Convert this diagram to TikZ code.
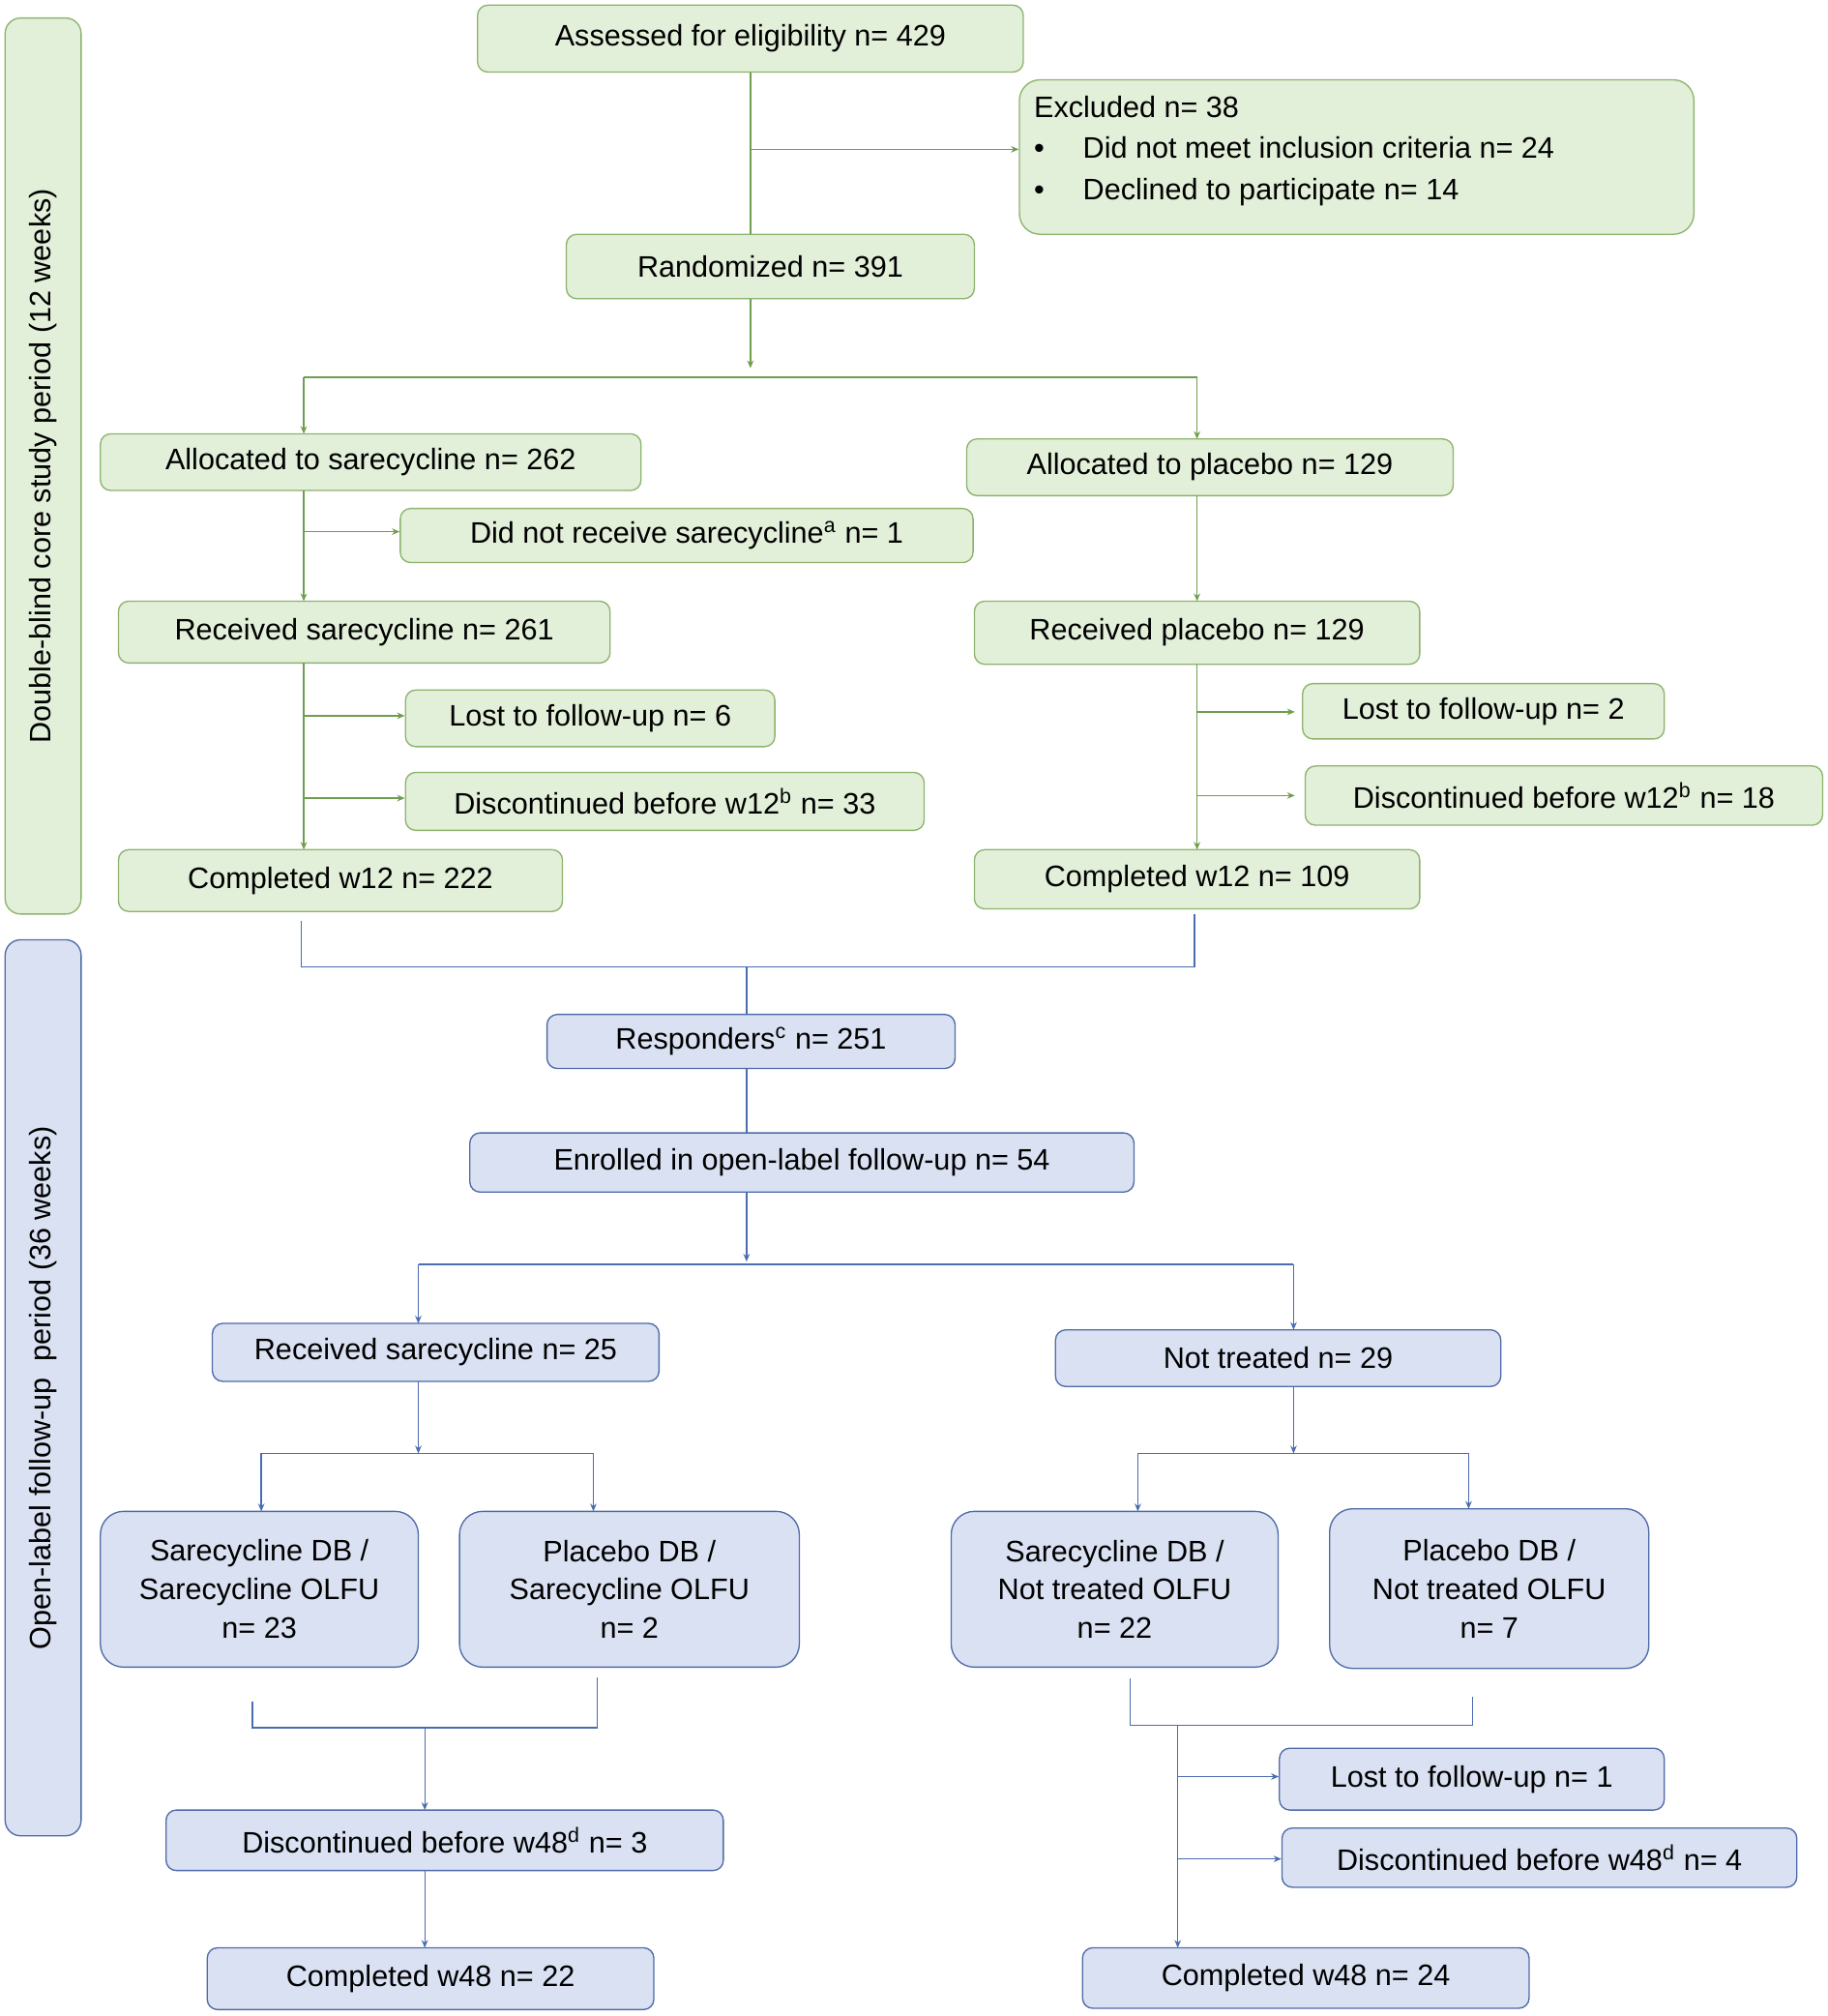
\documentclass[tikz,border=0pt]{standalone}
\usepackage{fontspec}
\setmainfont{Liberation Sans}
\usetikzlibrary{arrows.meta}
\definecolor{gf}{HTML}{E2EFD9}\definecolor{gb}{HTML}{8DB36C}\definecolor{gl}{HTML}{6E9E4E}
\definecolor{bf}{HTML}{D9E1F2}\definecolor{bb}{HTML}{4F6BA8}\definecolor{bl}{HTML}{4A6CB0}
\tikzset{
 g/.style={draw=gb,fill=gf,line width=0.5pt,rounded corners=4pt},
 b/.style={draw=bb,fill=bf,line width=0.5pt,rounded corners=4pt},
 gc/.style={draw=gl,line width=0.5pt},
 bc/.style={draw=bl,line width=0.5pt},
 ar/.style={-{Stealth[length=3pt,width=2.5pt]}},
 txt/.style={font=\fontsize{11.5}{15}\selectfont,inner sep=0pt,align=center}
}
\newcommand\bx[7]{\node[#7,txt,minimum width={(#4-#2)*0.5pt},minimum height={(#5-#3)*0.5pt}] (#1) at ({(#2+#4)/2},{(#3+#5)/2}) {#6};}
\begin{document}
\begin{tikzpicture}[x=0.5pt,y=-0.5pt]
\useasboundingbox (0,0) rectangle (1420,1566);
\fill[white] (0,0) rectangle (1420,1566);
% side labels
\bx{sg}{4}{14}{63}{710}{}{g,rounded corners=6pt}
\node[txt,rotate=90] (sgt) at (sg) {Double-blind core study period (12 weeks)};
\bx{sb}{4}{730}{63}{1426}{}{b,rounded corners=6pt}
\node[txt,rotate=90] (sbt) at (sb) {Open-label follow-up\ \ period (36 weeks)};
% green boxes
\bx{A}{371}{4}{795}{56}{Assessed for eligibility n= 429}{g}
\bx{E}{792}{62}{1316}{182}{}{g,rounded corners=8pt}
\node[txt,align=left,anchor=north west] (Et) at (803,74) {Excluded n= 38\\[1pt]
\textbullet\hspace{1.3em}Did not meet inclusion criteria n= 24\\[1pt]
\textbullet\hspace{1.3em}Declined to participate n= 14};
\bx{R}{440}{182}{757}{232}{Randomized n= 391}{g}
\bx{AS}{78}{337}{498}{381}{Allocated to sarecycline n= 262}{g}
\bx{AP}{751}{341}{1129}{385}{Allocated to placebo n= 129}{g}
\bx{DN}{311}{395}{756}{437}{Did not receive sarecycline\textsuperscript{a} n= 1}{g}
\bx{RS}{92}{467}{474}{515}{Received sarecycline n= 261}{g}
\bx{RP}{757}{467}{1103}{516}{Received placebo n= 129}{g}
\bx{L6}{315}{536}{602}{580}{Lost to follow-up n= 6}{g}
\bx{D33}{315}{600}{718}{645}{Discontinued before w12\textsuperscript{b} n= 33}{g}
\bx{L2}{1012}{531}{1293}{574}{Lost to follow-up n= 2}{g}
\bx{D18}{1014}{595}{1416}{641}{Discontinued before w12\textsuperscript{b} n= 18}{g}
\bx{C222}{92}{660}{437}{708}{Completed w12 n= 222}{g}
\bx{C109}{757}{660}{1103}{706}{Completed w12 n= 109}{g}
% blue boxes
\bx{RE}{425}{788}{742}{830}{Responders\textsuperscript{c} n= 251}{b}
\bx{EN}{365}{880}{881}{926}{Enrolled in open-label follow-up n= 54}{b}
\bx{R25}{165}{1028}{512}{1073}{Received sarecycline n= 25}{b}
\bx{NT}{820}{1033}{1166}{1077}{Not treated n= 29}{b}
\bx{SS}{78}{1174}{325}{1295}{Sarecycline DB /\\Sarecycline OLFU\\n= 23}{b,rounded corners=9pt}
\bx{PS}{357}{1174}{621}{1295}{Placebo DB /\\Sarecycline OLFU\\n= 2}{b,rounded corners=9pt}
\bx{SN}{739}{1174}{993}{1295}{Sarecycline DB /\\Not treated OLFU\\n= 22}{b,rounded corners=9pt}
\bx{PN}{1033}{1172}{1281}{1296}{Placebo DB /\\Not treated OLFU\\n= 7}{b,rounded corners=9pt}
\bx{D3}{129}{1406}{562}{1453}{Discontinued before w48\textsuperscript{d} n= 3}{b}
\bx{L1}{994}{1358}{1293}{1406}{Lost to follow-up n= 1}{b}
\bx{D4}{996}{1420}{1396}{1466}{Discontinued before w48\textsuperscript{d} n= 4}{b}
\bx{C22}{161}{1513}{508}{1561}{Completed w48 n= 22}{b}
\bx{C24}{841}{1513}{1188}{1560}{Completed w48 n= 24}{b}
% green connectors
\coordinate (a1) at (583,116);
\draw[gc] (583,56) -- (583,182);
\draw[gc,ar] (a1) -- (E.west|-a1);
\draw[gc,ar] (583,232) -- (583,286);
\draw[gc] (236,293) -- (930,293);
\draw[gc,ar] (236,293) -- (236,337);
\draw[gc,ar] (930,293) -- (930,341);
\draw[gc,ar] (236,381) -- (236,467);
\draw[gc,ar] (236,413) -- (DN.west|-236,413);
\draw[gc,ar] (930,385) -- (930,467);
\draw[gc,ar] (236,515) -- (236,660);
\draw[gc,ar] (236,556) -- (L6.west|-236,556);
\draw[gc,ar] (236,620) -- (D33.west|-236,620);
\draw[gc,ar] (930,516) -- (930,660);
\draw[gc,ar] (930,553) -- (1006,553);
\draw[gc,ar] (930,618) -- (1006,618);
% blue connectors
\draw[bc] (234,715) -- (234,751) -- (928,751) -- (928,710);
\draw[bc] (580,751) -- (580,788);
\draw[bc] (580,830) -- (580,880);
\draw[bc,ar] (580,926) -- (580,980);
\draw[bc] (325,982) -- (1005,982);
\draw[bc,ar] (325,982) -- (325,1028);
\draw[bc,ar] (1005,982) -- (1005,1033);
\draw[bc,ar] (325,1073) -- (325,1129);
\draw[bc] (203,1129) -- (461,1129);
\draw[bc,ar] (203,1129) -- (203,1174);
\draw[bc,ar] (461,1129) -- (461,1174);
\draw[bc,ar] (1005,1077) -- (1005,1129);
\draw[bc] (884,1129) -- (1141,1129);
\draw[bc,ar] (884,1129) -- (884,1174);
\draw[bc,ar] (1141,1129) -- (1141,1172);
\draw[bc] (196,1322) -- (196,1342) -- (464,1342) -- (464,1303);
\draw[bc,ar] (330,1342) -- (330,1406);
\draw[bc] (878,1304) -- (878,1340) -- (1144,1340) -- (1144,1318);
\draw[bc,ar] (915,1340) -- (915,1513);
\draw[bc,ar] (915,1380) -- (L1.west|-915,1380);
\draw[bc,ar] (915,1444) -- (D4.west|-915,1444);
\draw[bc,ar] (330,1453) -- (330,1513);
\end{tikzpicture}
\end{document}
